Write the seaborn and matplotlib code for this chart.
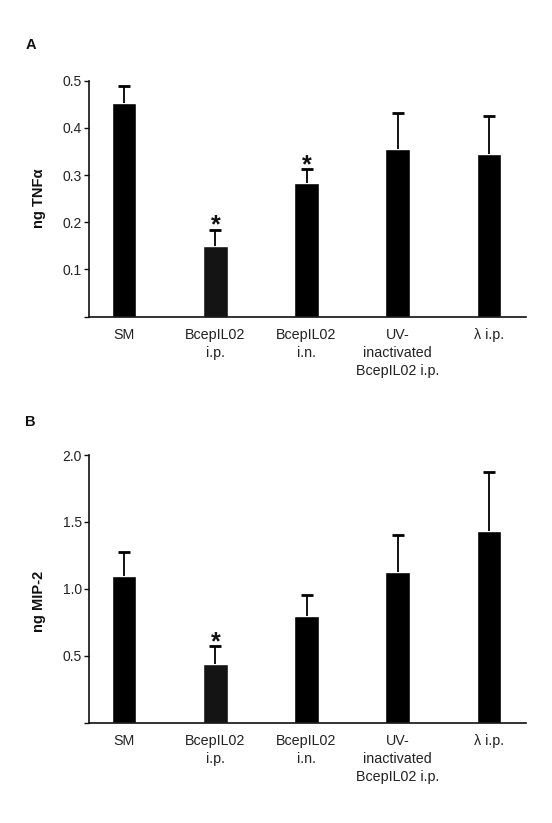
#!/usr/bin/env python3
"""
Cytokine levels (TNFa and MIP-2) after phage treatment, two bar panels.
"""
import matplotlib
matplotlib.use("Agg")
import matplotlib.pyplot as plt
import seaborn as sns

# Group labels shared by both panels
groups = ["SM", "BcepIL02\ni.p.", "BcepIL02\ni.n.",
          "UV-\ninactivated\nBcepIL02 i.p.", "λ i.p."]

# Panel A: ng TNFa (mean and upper error)
tnf_mean = [0.452, 0.150, 0.284, 0.356, 0.345]
tnf_err = [0.037, 0.034, 0.028, 0.075, 0.080]
tnf_sig = [False, True, True, False, False]

# Panel B: ng MIP-2 (mean and upper error)
mip_mean = [1.096, 0.436, 0.797, 1.126, 1.432]
mip_err = [0.178, 0.135, 0.158, 0.276, 0.441]
mip_sig = [False, True, False, False, False]

bar_colors = ["#000000", "#141414", "#000000", "#000000", "#000000"]

sns.set_theme(style="ticks")
plt.rcParams["font.family"] = ["Liberation Sans", "DejaVu Sans"]


def draw_panel(ax, means, errs, sig, yticks, ylabel, label_y):
    sns.barplot(x=groups, y=means, hue=groups, palette=bar_colors,
                saturation=1, width=0.27, legend=False, ax=ax)
    eb = ax.errorbar(range(len(groups)), means,
                     yerr=[[0] * len(errs), errs],
                     fmt="none", ecolor="#000000", elinewidth=1.3,
                     capsize=4, capthick=2)
    # only the upper cap is drawn in the original
    eb.lines[1][0].set_visible(False)
    for i, flag in enumerate(sig):
        if flag:
            ax.annotate("*", xy=(i, means[i] + errs[i]), xytext=(0, -2),
                        textcoords="offset points", ha="center",
                        va="baseline", fontsize=18, fontweight="bold",
                        color="#111111")
    ax.set_xlim(-0.38, 4.40)
    ax.set_ylim(0, yticks[-1])
    ax.set_yticks(yticks)
    ax.set_yticklabels([""] + [f"{t:.1f}" for t in yticks[1:]])
    ax.set_ylabel(ylabel, fontsize=10.5, fontweight="bold", color="#111111")
    ax.yaxis.set_label_coords(-0.10, label_y)
    ax.tick_params(axis="y", length=3.5, width=1, pad=2,
                   labelsize=10, labelcolor="#222222", color="#111111")
    ax.tick_params(axis="x", length=0, pad=8, labelsize=10.3,
                   labelcolor="#222222")
    for lab in ax.get_xticklabels():
        lab.set_linespacing(1.37)
    sns.despine(ax=ax)
    for side in ["left", "bottom"]:
        ax.spines[side].set_linewidth(1.2)
        ax.spines[side].set_color("#111111")


fig = plt.figure(figsize=(5.52, 8.23), dpi=100)
ax_a = fig.add_axes([0.162, 0.6152, 0.790, 0.2867])
ax_b = fig.add_axes([0.162, 0.1219, 0.790, 0.3252])

draw_panel(ax_a, tnf_mean, tnf_err, tnf_sig,
           [0, 0.1, 0.2, 0.3, 0.4, 0.5], "ng TNFα", 0.5)
draw_panel(ax_b, mip_mean, mip_err, mip_sig,
           [0, 0.5, 1.0, 1.5, 2.0], "ng MIP-2", 0.452)

fig.text(26 / 552, 1 - 38 / 823, "A", fontsize=10.5, fontweight="bold",
         va="top", color="#111111")
fig.text(25 / 552, 1 - 415 / 823, "B", fontsize=10.5, fontweight="bold",
         va="top", color="#111111")

fig.savefig("out.png", dpi=100, facecolor="white")
